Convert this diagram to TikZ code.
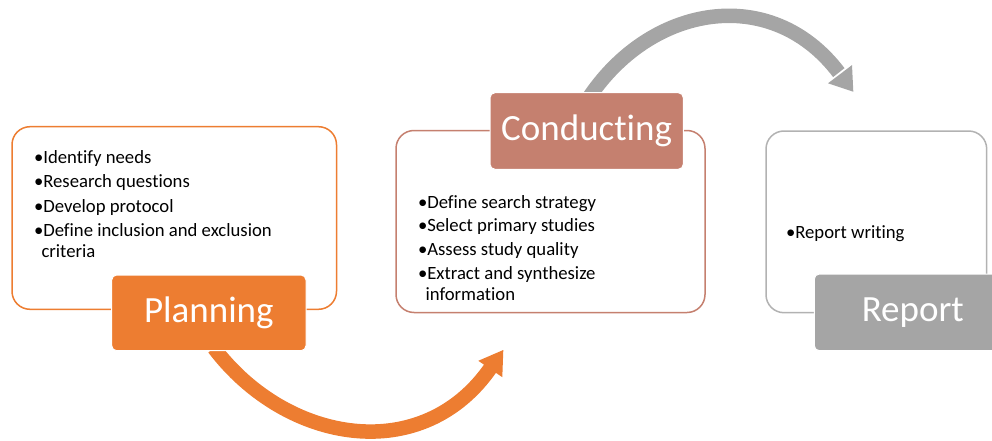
\documentclass[tikz,border=0pt]{standalone}
\usepackage{fontspec}
\setmainfont{Carlito}[Ligatures={NoCommon,NoRare,NoDiscretionary}]
\definecolor{orng}{HTML}{ED7D31}
\definecolor{brwn}{HTML}{C5806F}
\definecolor{gry}{HTML}{A5A5A5}
\definecolor{gryline}{HTML}{B2B2B2}
\newcommand\lstfnt{\fontsize{18.7}{20.5}\selectfont}
\newcommand\lblfnt{\fontsize{37}{44}\selectfont}
\newcommand\tnoi{t\kern0pt i}
\begin{document}
\begin{tikzpicture}[x=1pt,y=1pt,
  outerbox/.style={draw=#1, line width=1.5pt, fill=white, rounded corners=18pt,
    anchor=north west, inner sep=0pt, outer sep=0pt},
  lblbox/.style={fill=#1, draw=white, line width=1pt, rounded corners=5pt,
    anchor=north west, inner sep=0pt, outer sep=0pt, text=white, font=\lblfnt,
    text height=26pt, text depth=7pt},
  itemlist/.style={anchor=base west, inner sep=0pt, outer sep=0pt, font=\lstfnt, align=left},
  band/.style={draw=#1, line width=14.5pt}
]
\useasboundingbox (0,0) rectangle (992,440);
\clip (0,0) rectangle (992,440);

% ---- arrows (behind the boxes) ----
\coordinate (oS) at (214,92);
\coordinate (oM) at (491.5,73.5);
\coordinate (oTip) at (503.3,90);
\coordinate (oW1) at (478.3,79.2);
\coordinate (oW2) at (502.3,62.8);
\draw[band=orng] (oS) .. controls (286.7,-4) and (423.3,-26.6) .. (oM);
\fill[orng] (oTip) -- (oW1) -- (oW2) -- cycle;

\coordinate (gS) at (587.3,340);
\coordinate (gM) at (838.8,367.4);
\coordinate (gTip) at (853.3,348.3);
\coordinate (gW1) at (852,374.9);
\coordinate (gW2) at (828,356.7);
\draw[band=gry] (gS) .. controls (649.4,435.6) and (771,456.7) .. (gM);
\fill[gry] (gTip) -- (gW1) -- (gW2) -- cycle;

% ---- Planning ----
\node[outerbox=orng, minimum width=324.5pt, minimum height=182.6pt] (pbox) at (12,313.3) {};
\node[itemlist] (plist) at (34,277) {\renewcommand\arraystretch{1}%
  \begin{tabular}[t]{@{}l@{}}
  •Iden\tnoi fy needs\\[4.3pt]
  •Research ques\tnoi ons\\[4.3pt]
  •Develop protocol\\[3.8pt]
  •Define inclusion and exclusion\\
  \hspace*{7.5pt}criteria
  \end{tabular}};
\node[lblbox=orng, minimum width=194.3pt, minimum height=75.7pt] (plab) at (111.7,165) {Planning};

% ---- Conducting ----
\node[outerbox=brwn, minimum width=309pt, minimum height=182pt] (cbox) at (396,309.5) {};
\node[itemlist] (clist) at (418,231.7) {\fontsize{18.7}{21.7}\selectfont\renewcommand\arraystretch{1}%
  \begin{tabular}[t]{@{}l@{}}
  •Define search strategy\\[1.7pt]
  •Select primary studies\\[1.7pt]
  •Assess study quality\\[2.3pt]
  •Extract and synthesize\\
  \hspace*{7.5pt}informa\tnoi on
  \end{tabular}};
\node[lblbox=brwn, minimum width=193.3pt, minimum height=76.6pt] (clab) at (490,347.3) {Conduc\tnoi ng};

% ---- Report ----
\node[outerbox=gryline, minimum width=220.7pt, minimum height=181.7pt] (rbox) at (766,309) {};
\node[itemlist] (rlist) at (786,201.7) {•Report wri\tnoi ng};
\node[lblbox=gry, minimum width=197pt, minimum height=76.7pt] (rlab) at (814.3,166) {Report};
\end{tikzpicture}
\end{document}
